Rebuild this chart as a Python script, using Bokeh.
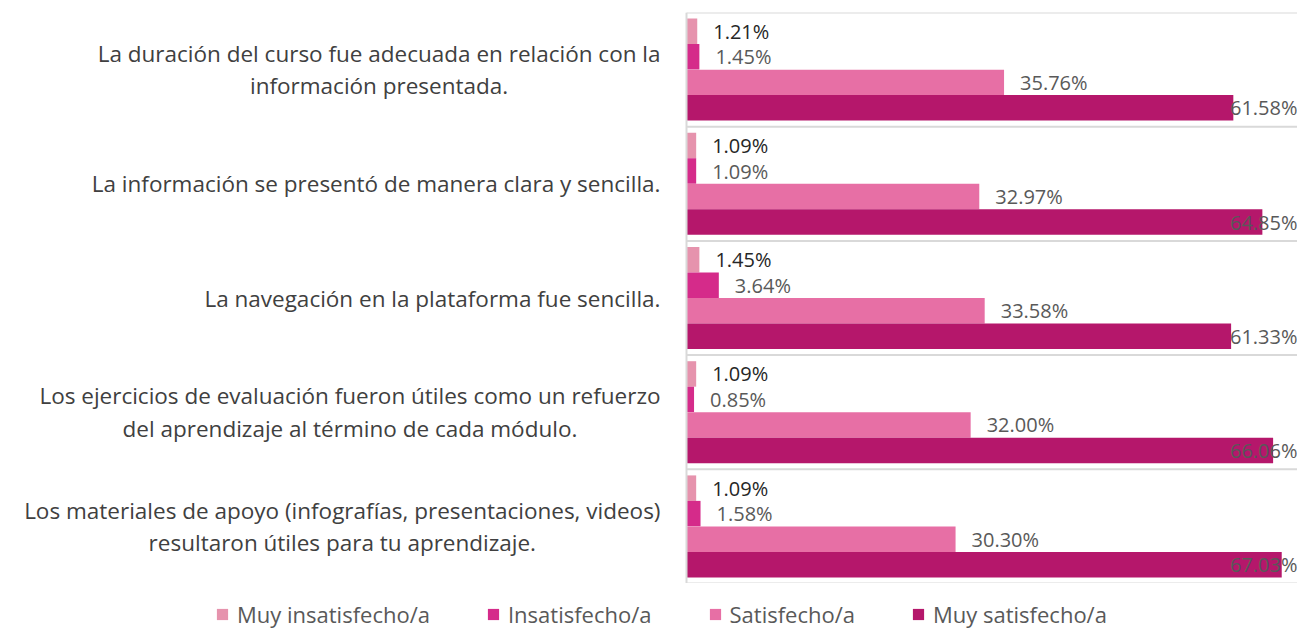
from bokeh.plotting import figure
from bokeh.layouts import column
from bokeh.models import ColumnDataSource, FactorRange, Range1d, Span, Legend, LegendItem
from bokeh.transform import dodge
from bokeh.core.properties import value
from bokeh.embed import file_html
from bokeh.resources import INLINE

categories = [
    "La duración del curso fue adecuada en relación con la\ninformación presentada.",
    "La información se presentó de manera clara y sencilla.",
    "La navegación en la plataforma fue sencilla.",
    "Los ejercicios de evaluación fueron útiles como un refuerzo\ndel aprendizaje al término de cada módulo.",
    "Los materiales de apoyo (infografías, presentaciones, videos)\nresultaron útiles para tu aprendizaje.",
]
series_names = ["Muy insatisfecho/a", "Insatisfecho/a", "Satisfecho/a", "Muy satisfecho/a"]
muy_insatisfecho = [1.21, 1.09, 1.45, 1.09, 1.09]
insatisfecho = [1.45, 1.09, 3.64, 0.85, 1.58]
satisfecho = [35.76, 32.97, 33.58, 32.00, 30.30]
muy_satisfecho = [61.58, 64.85, 61.33, 66.06, 67.03]

colors = ["#E693AD", "#D52B8A", "#E76FA5", "#B5176B"]
label_colors = ["#262626", "#595959", "#595959", "#595959"]
FONT = "Open Sans"

# layout (pixels)
W = 1297
H_MAIN = 583
H_LEG = 46
AXIS_X = 686              # pixel position of x=0 inside figure
PX_PER_UNIT = 8.88
x_start = -AXIS_X / PX_PER_UNIT
x_end = (W - AXIS_X) / PX_PER_UNIT

factors = list(reversed(categories))
p = figure(width=W, height=H_MAIN, output_backend="svg", toolbar_location=None,
           x_range=Range1d(x_start, x_end), y_range=FactorRange(*factors),
           min_border_left=0, min_border_right=0, min_border_top=12, min_border_bottom=0)
p.axis.visible = False
p.grid.visible = False
p.outline_line_color = None
p.background_fill_color = "white"

series = [muy_insatisfecho, insatisfecho, satisfecho, muy_satisfecho]
offsets = [0.335, 0.112, -0.112, -0.335]
bar_h = 0.223

data = dict(cat=categories)
for i, s in enumerate(series):
    data[f"s{i}"] = s
src = ColumnDataSource(data)

# separators and frame lines
seps = list(range(len(categories) + 1))
p.segment(x0=[0] * len(seps), x1=[x_end] * len(seps), y0=seps, y1=seps,
          line_color="#D9D9D9", line_width=2)
p.add_layout(Span(location=0, dimension="height", line_color="#D9D9D9", line_width=2))

for i, s in enumerate(series):
    p.hbar(y=dodge("cat", offsets[i], range=p.y_range), left=0, right=f"s{i}",
           height=bar_h, source=src, fill_color=colors[i], line_color=None)
    small = [(c, v) for c, v in zip(categories, s) if v < 55]
    big = [(c, v) for c, v in zip(categories, s) if v >= 55]
    if small:
        ls = ColumnDataSource(dict(cat=[c for c, _ in small], x=[v for _, v in small],
                                   t=["%.2f%%" % v for _, v in small]))
        p.text(x="x", y=dodge("cat", offsets[i], range=p.y_range), text="t", source=ls,
               x_offset=16, text_align="left", text_baseline="middle",
               text_font=value(FONT), text_font_size="20px", text_color=label_colors[i])
    if big:
        lb = ColumnDataSource(dict(cat=[c for c, _ in big], x=[x_end] * len(big),
                                   t=["%.2f%%" % v for _, v in big]))
        p.text(x="x", y=dodge("cat", offsets[i], range=p.y_range), text="t", source=lb,
               x_offset=0, text_align="right", text_baseline="middle",
               text_font=value(FONT), text_font_size="20px", text_color=label_colors[i])

# category labels
cs = ColumnDataSource(dict(cat=categories, x=[0] * len(categories)))
p.text(x="x", y="cat", text="cat", source=cs, x_offset=-26,
       anchor="center_right", text_align="center", text_baseline="middle",
       text_line_height=1.05, text_font=value(FONT), text_font_size="22.5px",
       text_color="#404040")

# legend strip
pl = figure(width=W, height=H_LEG, output_backend="svg", toolbar_location=None,
            x_range=Range1d(0, 1), y_range=Range1d(0, 1),
            min_border_left=0, min_border_right=0, min_border_top=0, min_border_bottom=0)
pl.axis.visible = False
pl.grid.visible = False
pl.outline_line_color = None
# legend proxies: one zero-width entry outside the visible range
proxy = ColumnDataSource(dict(y=[-10], right=[0]))
leg_renderers = [pl.hbar(y="y", right="right", left=0, height=1, source=proxy,
                         fill_color=c, line_color=None) for c in colors]
legend = Legend(items=[LegendItem(label=n, renderers=[r]) for n, r in zip(series_names, leg_renderers)],
                orientation="horizontal", location=(215, 0),
                label_text_font=FONT, label_text_font_size="22px", label_text_color="#595959",
                glyph_width=14, glyph_height=14, label_standoff=8, spacing=56,
                padding=0, margin=0, border_line_color=None, background_fill_alpha=0)
pl.add_layout(legend, "center")

open("out.html", "w").write(file_html(column(p, pl, spacing=0), INLINE))
